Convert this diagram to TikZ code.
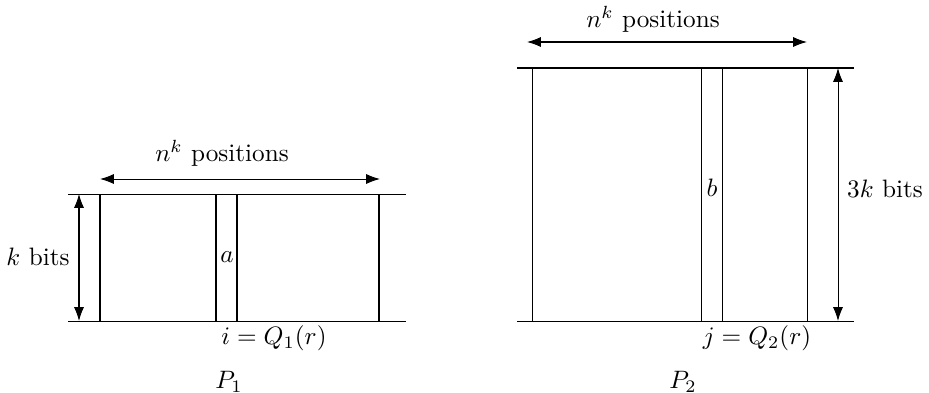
\documentclass[tikz,border=0pt]{standalone}
\usetikzlibrary{arrows.meta}
\begin{document}
\begin{tikzpicture}[x=0.397pt,y=-0.397pt,
  rule/.style={line width=0.4pt},
  dim/.style={line width=0.4pt,{Latex[length=5.5pt,width=4pt]}-{Latex[length=5.5pt,width=4pt]}},
  lbl/.style={inner sep=0pt}]
\useasboundingbox (0,0) rectangle (929,393);
% ---- P1 ----
\coordinate (l1) at (68,194); \coordinate (r1) at (406,194);
\coordinate (l2) at (68,321); \coordinate (r2) at (406,321);
\draw[rule] (l1) -- (r1);
\draw[rule] (l2) -- (r2);
\foreach \x in {100,216,237,379} \draw[rule] (\x,194) -- (\x,321);
\coordinate (kt) at (79,194); \coordinate (kb) at (79,321);
\draw[dim] (kt) -- (kb);
\coordinate (pa) at (100,179); \coordinate (pb) at (380,179);
\draw[dim] (pa) -- (pb);
\node[lbl] (pos1) at (222,153) {$n^k$ positions};
\node[lbl] (kbits) at (38,257) {$k$ bits};
\node[lbl] (a) at (227,257) {$a$};
\node[lbl] (i) at (274,338) {$i = Q_1(r)$};
\node[lbl] (P1) at (229,382) {$P_1$};
% ---- P2 ----
\coordinate (m1) at (517,68); \coordinate (s1) at (854,68);
\coordinate (m2) at (517,321); \coordinate (s2) at (854,321);
\draw[rule] (m1) -- (s1);
\draw[rule] (m2) -- (s2);
\foreach \x in {532,701,722,807} \draw[rule] (\x,68) -- (\x,321);
\coordinate (ht) at (838,68); \coordinate (hb) at (838,321);
\draw[dim] (ht) -- (hb);
\coordinate (qa) at (527,42); \coordinate (qb) at (807,42);
\draw[dim] (qa) -- (qb);
\node[lbl] (pos2) at (653,19) {$n^k$ positions};
\node[lbl] (kbits3) at (885,189) {$3k$ bits};
\node[lbl] (b) at (712,188) {$b$};
\node[lbl] (j) at (757,338) {$j = Q_2(r)$};
\node[lbl] (P2) at (683,382) {$P_2$};
\end{tikzpicture}
\end{document}
